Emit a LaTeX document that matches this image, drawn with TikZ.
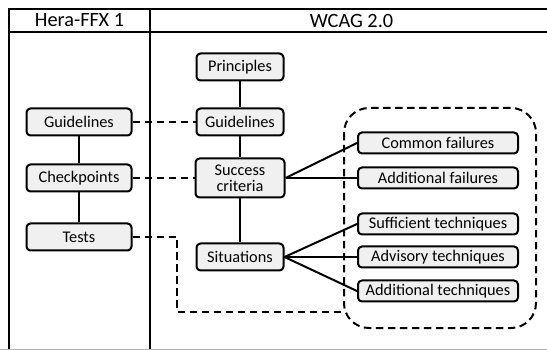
\documentclass[tikz,border=0pt]{standalone}
\usepackage{fontspec}
\setmainfont{Carlito}
\begin{document}
\begin{tikzpicture}[x=1pt,y=-1pt,
  box/.style={draw, line width=2pt, rounded corners=4pt, fill=gray!12, font=\fontsize{16.3}{17}\selectfont, inner sep=1pt, align=center},
  hbox/.style={box, minimum width=105pt, minimum height=27pt},
  wbox/.style={box, minimum width=87pt, minimum height=27pt},
  rbox/.style={box, minimum width=160pt, minimum height=21pt},
  frame/.style={line width=2pt},
  conn/.style={line width=2pt},
  dconn/.style={line width=2pt, dash pattern=on 7.5pt off 4.5pt},
  head/.style={font=\fontsize{20.3}{21}\selectfont, inner sep=0pt}]
\useasboundingbox (0,0) rectangle (547,350);
% frame
\draw[frame] (9,349) -- (9,9) -- (547,9);
\draw[frame] (9,32) -- (547,32);
\draw[frame] (150,9) -- (150,349);
\draw[gray!60, line width=0.8pt] (0,349.5) -- (547,349.5);
\node[head] (hh) at (79.5,20.5) {Hera-FFX 1};
\node[head] (hw) at (351.5,20.5) {WCAG 2.0};
% dashed region
\draw[dconn, rounded corners=25pt] (344,108) rectangle (536,328);
\coordinate (dl) at (345,312);
% Hera nodes
\node[hbox] (hg) at (79,122) {Guidelines};
\node[hbox] (hc) at (79,178) {Checkpoints};
\node[hbox] (ht) at (79,237) {Tests};
% WCAG nodes
\node[wbox] (wp) at (240,67) {Principles};
\node[wbox] (wg) at (240,122) {Guidelines};
\node[wbox, minimum width=89pt, minimum height=39pt] (ws) at (240,178) {Success\\[-1pt]criteria};
\node[wbox] (wsi) at (240,257) {Situations};
% right nodes
\node[rbox] (cf) at (438,143) {Common failures};
\node[rbox] (af) at (438,178) {Additional failures};
\node[rbox] (st) at (438,224) {Sufficient techniques};
\node[rbox] (at) at (438,257) {Advisory techniques};
\node[rbox] (adt) at (438,291) {Additional techniques};
% solid connectors
\draw[conn] (hg) -- (hc);
\draw[conn] (hc) -- (ht);
\draw[conn] (wp) -- (wg);
\draw[conn] (wg) -- (ws);
\draw[conn] (ws) -- (wsi);
\draw[conn] (ws.east) -- (cf.west);
\draw[conn] (ws.east) -- (af.west);
\draw[conn] (wsi.east) -- (st.west);
\draw[conn] (wsi.east) -- (at.west);
\draw[conn] (wsi.east) -- (adt.west);
% dashed connectors
\draw[dconn] (hg.east) -- (wg.west);
\draw[dconn] (hc.east) -- (ws.west);
\draw[dconn] (ht.east) -- (177,237) -- (177,312) -- (dl);
\end{tikzpicture}
\end{document}
